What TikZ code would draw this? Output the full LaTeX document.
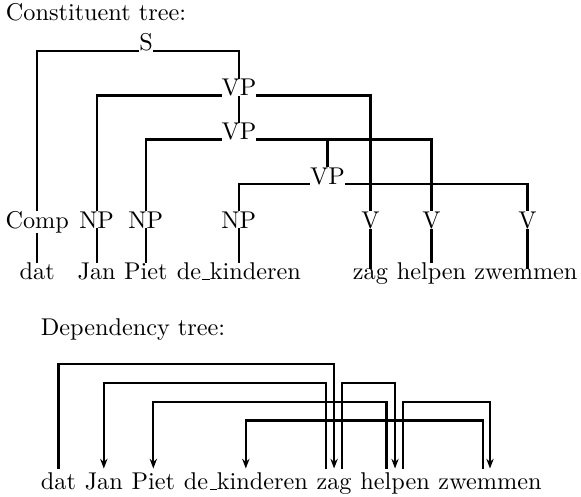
\documentclass[tikz,border=0pt]{standalone}
\usetikzlibrary{positioning,arrows.meta}
\newcommand\uscore{\leavevmode\kern.06em\vbox{\hrule width.3em}}
\begin{document}
\begin{tikzpicture}[scale=0.2,line width=0.9pt,>={Stealth[length=4pt,width=3pt]},
	cat/.style={anchor=base},
	dword/.style={text height=1.6ex,text depth=.25ex,inner ysep=1.9pt}]
			\tikzstyle{every node}+=[inner sep=0pt,outer sep=0pt]
			\useasboundingbox (0,0) rectangle (42.09,-36);
			% constituent tree
			\node (ctitle) [anchor=base west] at (0.43,-1.5) {Constituent tree:};
			\node (S) [cat] at (10.58,-3.69) {S};
			\node (VPa) [cat] at (17.31,-6.92) {VP};
			\node (VPb) [cat] at (17.31,-10.1) {VP};
			\node (VPc) [cat] at (23.73,-13.33) {VP};
			\node (Comp) [cat] at (2.7,-16.52) {Comp};
			\node (NPa) [cat] at (7,-16.52) {NP};
			\node (NPb) [cat] at (10.56,-16.52) {NP};
			\node (NPc) [cat] at (17.3,-16.52) {NP};
			\node (Va) [cat] at (26.84,-16.52) {V};
			\node (Vb) [cat] at (31.26,-16.52) {V};
			\node (Vc) [cat] at (38.21,-16.52) {V};
			\node (ta) [cat] at (2.7,-20.25) {dat};
			\node (tb) [cat] at (7,-20.25) {Jan};
			\node (tc) [cat] at (10.56,-20.25) {Piet};
			\node (td) [cat] at (17.3,-20.25) {de\uscore kinderen};
			\node (te) [cat] at (26.84,-20.25) {zag};
			\node (tf) [cat] at (31.26,-20.25) {helpen};
			\node (tg) [cat] at (38.1,-20.25) {zwemmen};
			\draw (S.base west) -| (Comp.north);
			\draw (S.base east) -| (VPa.north);
			\draw (VPa.base west) -| (NPa.north);
			\draw (VPa.base east) -| (Va.north);
			\draw (VPa.south) -- (VPb.north);
			\draw (VPb.base west) -| (NPb.north);
			\draw (VPb.base east) -| (Vb.north);
			\draw (VPc.north |- VPb.base) -- (VPc.north);
			\draw (VPc.base west) -| (NPc.north);
			\draw (VPc.base east) -| (Vc.north);
			\draw (Comp.south) -- (ta.north);
			\draw (NPa.south) -- (tb.north);
			\draw (NPb.south) -- (tc.north);
			\draw (NPc.south) -- (td.north);
			\draw (Va.south) -- (Va.south |- te.north);
			\draw (Vb.south) -- (Vb.south |- tf.north);
			\draw (Vc.south) -- (Vc.south |- tg.north);
			% dependency tree
			\node (dtitle) [anchor=base west] at (2.96,-24.27) {Dependency tree:};
			\node (da) [dword,anchor=base west] at (2.97,-35.49) {dat};
			\node (db) [dword,base right=3.6pt of da] {Jan};
			\node (dc) [dword,base right=3.6pt of db] {Piet};
			\node (dd) [dword,base right=3.6pt of dc] {de\uscore kinderen};
			\node (de) [dword,base right=3.6pt of dd] {zag};
			\node (df) [dword,base right=3.6pt of de] {helpen};
			\node (dg) [dword,base right=3.6pt of df] {zwemmen};
			\coordinate (ha) at (0,-26.37);
			\coordinate (hb) at (0,-27.77);
			\coordinate (hc) at (0,-29.1);
			\coordinate (hd) at (0,-30.47);
			\draw [->] (da.north) |- (ha -| de.north) -- (de.north);
			\draw [->] ([shift={(-0.58,0)}]de.north) |- (hb -| db.north) -- (db.north);
			\draw [->] ([shift={(0.58,0)}]de.north) |- (hb -| df.north) -- (df.north);
			\draw [->] ([shift={(-0.62,0)}]df.north) |- (hc -| dc.north) -- (dc.north);
			\draw [->] ([shift={(0.58,0)}]df.north) |- (hc -| dg.north) -- (dg.north);
			\draw [->] ([shift={(-0.52,0)}]dg.north) |- (hd -| dd.north) -- (dd.north);
\end{tikzpicture}
\end{document}
